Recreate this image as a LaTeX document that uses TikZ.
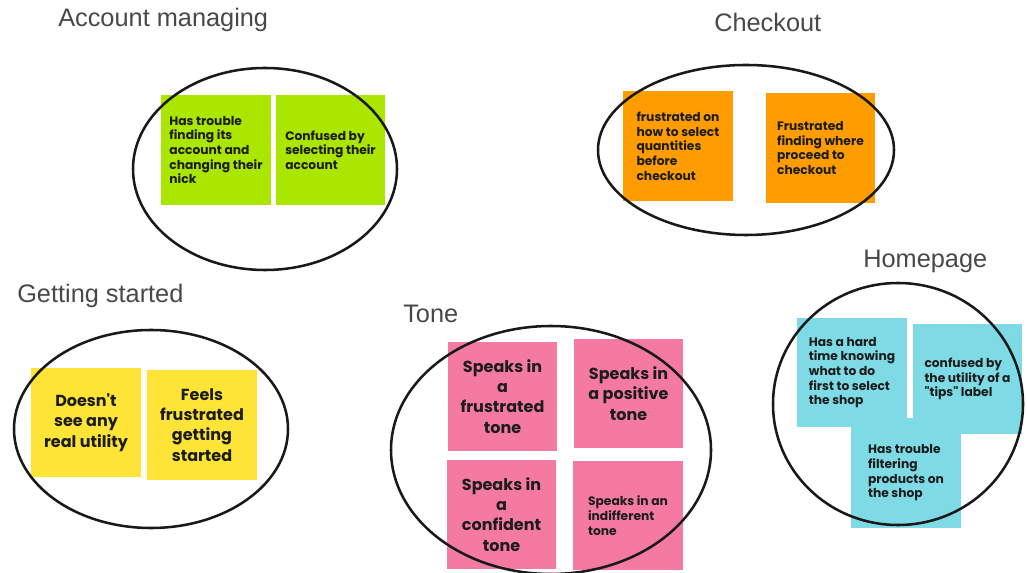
\documentclass[tikz,border=0pt]{standalone}
\usepackage{fontspec}
\setmainfont{Liberation Sans}
\newfontfamily\notefont{Poppins}
\definecolor{titlegray}{RGB}{72,72,72}
\definecolor{notetext}{RGB}{28,28,28}
\definecolor{ringblack}{RGB}{25,25,25}
\definecolor{notegreen}{RGB}{170,230,0}
\definecolor{noteorange}{RGB}{255,157,0}
\definecolor{noteyellow}{RGB}{253,228,55}
\definecolor{notepink}{RGB}{245,122,162}
\definecolor{notecyan}{RGB}{126,219,230}

\begin{document}
\begin{tikzpicture}[x=0.75pt, y=-0.75pt,
    title/.style={anchor=base west, inner sep=0, text=titlegray, font=\fontsize{19}{22}\selectfont},
    note/.style={minimum width=82pt, minimum height=82pt, inner sep=0, text=notetext,
        font=\notefont\bfseries\fontsize{9.2}{11}\selectfont, align=left},
    bignote/.style={note, align=center, font=\notefont\bfseries\fontsize{12}{15.2}\selectfont},
    ring/.style={draw=ringblack, line width=1.9pt}]
    \useasboundingbox (0,0) rectangle (1027,573);

    % Account managing
    \node[title] (acct-title) at (58,27) {Account managing};
    \node[note, fill=notegreen] (acct-nick) at (216,150) {Has trouble\\finding its\\account and\\changing their\\nick};
    \node[note, fill=notegreen] (acct-select) at (330.5,150) {Confused by\\selecting their\\account};
    \draw[ring] (265,169) ellipse [x radius=132, y radius=101];

    % Checkout
    \node[title] (check-title) at (714,32) {Checkout};
    \node[note, fill=noteorange] (check-qty) at (678,146) {frustrated on\\how to select\\quantities\\before\\checkout};
    \node[note, fill=noteorange] (check-where) at (820.5,148) {Frustrated\\finding where\\proceed to\\checkout};
    \draw[ring] (746,150) ellipse [x radius=148, y radius=85];

    % Getting started
    \node[title] (start-title) at (17,303) {Getting started};
    \node[bignote, fill=noteyellow] (start-utility) at (86,422.5) {Doesn't\\see any\\real utility};
    \node[bignote, fill=noteyellow] (start-feels) at (202,425) {Feels\\frustrated\\getting\\started};
    \draw[ring] (151,429) ellipse [x radius=137, y radius=99];

    % Tone
    \node[title] (tone-title) at (403,323) {Tone};
    \node[bignote, fill=notepink] (tone-frust) at (502.5,396.5) {Speaks in\\a\\frustrated\\tone};
    \node[bignote, fill=notepink] (tone-pos) at (628.5,393.5) {Speaks in\\a positive\\tone};
    \node[bignote, fill=notepink] (tone-conf) at (501.5,514.5) {Speaks in\\a\\confident\\tone};
    \node[note, fill=notepink] (tone-indiff) at (628,515.5) {Speaks in an\\indifferent\\tone};
    \draw[ring] (551,450) ellipse [x radius=160, y radius=124];

    % Homepage
    \node[title] (home-title) at (863,268) {Homepage};
    \node[note, fill=notecyan] (home-first) at (852,372.5) {Has a hard\\time knowing\\what to do\\first to select\\the shop};
    \node[note, fill=notecyan] (home-tips) at (967.5,379) {confused by\\the utility of a\\"tips" label};
    \node[note, fill=notecyan] (home-filter) at (906,473) {Has trouble\\filtering\\products on\\the shop};
    \draw[ring] (898,404) ellipse [x radius=125, y radius=121];
\end{tikzpicture}
\end{document}
